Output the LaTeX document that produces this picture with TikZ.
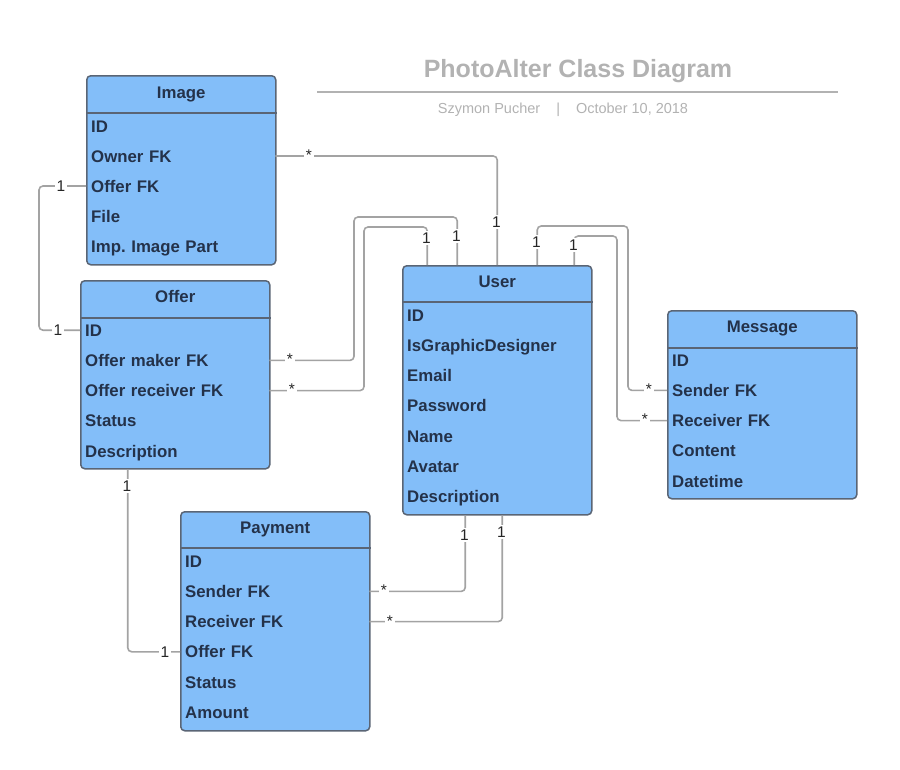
\documentclass[tikz,border=0pt]{standalone}
\usepackage{fontspec}
\setmainfont{Liberation Sans}
\usetikzlibrary{positioning,calc}
\definecolor{clsFill}{RGB}{131,190,249}
\definecolor{clsEdge}{RGB}{90,101,117}
\definecolor{clsText}{RGB}{36,50,74}
\definecolor{connGray}{RGB}{163,163,163}
\definecolor{titleGray}{RGB}{178,178,178}
\frenchspacing

\begin{document}
\begin{tikzpicture}[x=1pt, y=-1pt,
    cls/.style={rectangle, rounded corners=4pt, draw=clsEdge, fill=clsFill,
                anchor=north west, minimum width=189pt, line width=1.5pt, inner sep=0pt},
    head/.style={font=\fontsize{16.8}{18}\selectfont\bfseries, text=clsText,
                 text height=14pt, text depth=2pt},
    sep/.style={draw=clsEdge, line width=1.5pt},
    row/.style={anchor=west, text width=179pt, inner xsep=5pt, inner ysep=0pt, align=left,
                text height=14pt, text depth=2pt,
                font=\fontsize{16.8}{18}\selectfont\bfseries, text=clsText},
    conn/.style={draw=connGray, line width=1.6pt, rounded corners=4pt},
    mult/.style={fill=white, inner sep=1.5pt, text=black!85,
                 font=\fontsize{15.5}{16}\selectfont}
  ]
  \useasboundingbox (0,0) rectangle (900,769);

  % title
  \node[font=\fontsize{25}{28}\selectfont\bfseries, text=titleGray] (title) at (578,71) {PhotoAlter Class Diagram};
  \draw[draw=titleGray, line width=1.5pt] (317,92) -- (838,92);
  \node[font=\fontsize{14.5}{16}\selectfont, text=titleGray] (subtitle) at (563,110)
    {Szymon Pucher\hspace{16pt}|\hspace{16pt}October 10, 2018};

  % Image
  \node[cls, minimum height=189pt] (image) at (86,75) {};
  \node[head] (image-h) at ([yshift=-17pt]image.north) {Image};
  \draw[sep] ([yshift=-38pt]image.north west) -- ([yshift=-38pt]image.north east);
  \foreach \t [count=\i] in {ID, Owner FK, Offer FK, File, Imp. Image Part}
    \node[row] (image-\i) at (86,96+30*\i) {\t};

  % Offer
  \node[cls, minimum height=188pt] (offer) at (80,280) {};
  \node[head] (offer-h) at ([yshift=-16pt]offer.north) {Offer};
  \draw[sep] ([yshift=-38pt]offer.north west) -- ([yshift=-38pt]offer.north east);
  \foreach \t [count=\i] in {ID, Offer maker FK, Offer receiver FK, Status, Description}
    \node[row] (offer-\i) at (80,300+30.2*\i) {\t};

  % User
  \node[cls, minimum height=249pt] (user) at (402,265) {};
  \node[head] (user-h) at ([yshift=-16pt]user.north) {User};
  \draw[sep] ([yshift=-37pt]user.north west) -- ([yshift=-37pt]user.north east);
  \foreach \t [count=\i] in {ID, IsGraphicDesigner, Email, Password, Name, Avatar, Description}
    \node[row] (user-\i) at (402,285+30.2*\i) {\t};

  % Message
  \node[cls, minimum height=188pt] (message) at (667,310) {};
  \node[head] (message-h) at ([yshift=-16pt]message.north) {Message};
  \draw[sep] ([yshift=-38pt]message.north west) -- ([yshift=-38pt]message.north east);
  \foreach \t [count=\i] in {ID, Sender FK, Receiver FK, Content, Datetime}
    \node[row] (message-\i) at (667,330+30.2*\i) {\t};

  % Payment
  \node[cls, minimum height=219pt] (payment) at (180,511) {};
  \node[head] (payment-h) at ([yshift=-16pt]payment.north) {Payment};
  \draw[sep] ([yshift=-37pt]payment.north west) -- ([yshift=-37pt]payment.north east);
  \foreach \t [count=\i] in {ID, Sender FK, Receiver FK, Offer FK, Status, Amount}
    \node[row] (payment-\i) at (180,531+30.2*\i) {\t};

  % connectors
  \draw[conn] (image-2.east) -| (user.north);
  \draw[conn] (image-3.west) -| (39,258) |- (offer-1.west);
  \draw[conn] (offer-2.east) -| (354,217) -| ([xshift=-40pt]user.north);
  \draw[conn] (offer-3.east) -| (364,227) -| ([xshift=-70pt]user.north);
  \draw[conn] (message-2.west) -| (628,226) -| ([xshift=40pt]user.north);
  \draw[conn] (message-3.west) -| (617,236) -| ([xshift=77pt]user.north);
  \draw[conn] ([xshift=-47.5pt]offer.south) |- (payment-4.west);
  \draw[conn] ([xshift=-32pt]user.south) |- (payment-2.east);
  \draw[conn] ([xshift=5pt]user.south) |- (payment-3.east);

  % multiplicities
  \node[mult] (m1) at (309,155) {*};
  \node[mult] (m2) at (496.5,222) {1};
  \node[mult] (m3) at (61,186) {1};
  \node[mult] (m4) at (58,330) {1};
  \node[mult] (m5) at (290,359) {*};
  \node[mult] (m6) at (456.5,236) {1};
  \node[mult] (m7) at (292,389) {*};
  \node[mult] (m8) at (426.5,238) {1};
  \node[mult] (m9) at (649,389) {*};
  \node[mult] (m10) at (536.5,242) {1};
  \node[mult] (m11) at (645,419) {*};
  \node[mult] (m12) at (573.5,245) {1};
  \node[mult] (m13) at (127,486) {1};
  \node[mult] (m14) at (165,652) {1};
  \node[mult] (m15) at (464.5,535) {1};
  \node[mult] (m16) at (384,590) {*};
  \node[mult] (m17) at (501.5,532) {1};
  \node[mult] (m18) at (390,621) {*};
\end{tikzpicture}
\end{document}
